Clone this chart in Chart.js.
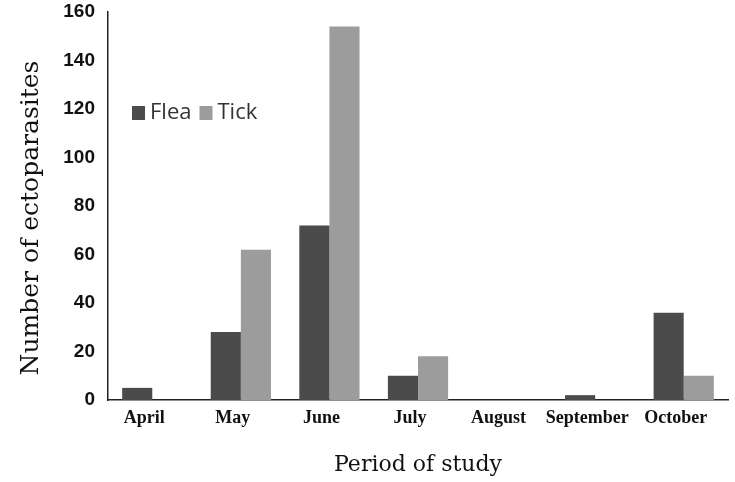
<!DOCTYPE html>
<html>
<head>
<meta charset="utf-8">
<script src="https://cdn.jsdelivr.net/npm/chart.js@4/dist/chart.umd.min.js"></script>
<style>
html,body{margin:0;padding:0;background:#fff;}
#wrap{width:735px;height:482px;position:relative;}
</style>
</head>
<body>
<div id="wrap"><canvas id="c" width="735" height="482"></canvas></div>
<script>
const categories = ["April","May","June","July","August","September","October"];
const fleaValues = [5, 28, 72, 10, 0, 2, 36];
const tickValues = [0, 62, 154, 18, 0, 0, 10];
const yTicks = [0,20,40,60,80,100,120,140,160];
const seriesNames = ["Flea","Tick"];
const seriesColors = ["#4b4b4b","#9c9c9c"];
const yTitle = 'Number of ectoparasites';

const legendPlugin = {
  id: 'insideLegend',
  afterDraw(chart){
    const ctx = chart.ctx;
    const a = chart.chartArea;
    ctx.save();
    ctx.font = '22px "Open Sans"';
    ctx.textBaseline = 'middle';
    let x = a.left + 24;
    const y = a.top + 101;
    seriesNames.forEach((n,i)=>{
      ctx.fillStyle = seriesColors[i];
      ctx.fillRect(x, y-7, 13, 14);
      x += 18;
      ctx.fillStyle = '#333';
      ctx.fillText(n, x, y);
      x += ctx.measureText(n).width + 8;
    });
    // y axis title
    ctx.translate(31, (a.top + a.bottom) / 2 + 12);
    ctx.rotate(-Math.PI / 2);
    ctx.font = '25px "DejaVu Serif"';
    ctx.fillStyle = '#111';
    ctx.textAlign = 'center';
    ctx.textBaseline = 'middle';
    ctx.fillText(yTitle, 0, 0);
    ctx.restore();
  }
};

new Chart(document.getElementById('c'), {
  type: 'bar',
  data: {
    labels: categories,
    datasets: [
      {label: seriesNames[0], data: fleaValues, backgroundColor: seriesColors[0], categoryPercentage: 0.68, barPercentage: 1.0},
      {label: seriesNames[1], data: tickValues, backgroundColor: seriesColors[1], categoryPercentage: 0.68, barPercentage: 1.0}
    ]
  },
  options: {
    responsive: false,
    animation: false,
    layout: {padding: {top: 12, right: 7, left: 0, bottom: 0}},
    plugins: {legend: {display: false}, tooltip: {enabled: false}},
    scales: {
      x: {
        grid: {display: false, drawTicks: false},
        border: {color: '#222', width: 1.5},
        ticks: {color: '#111', font: {family: '"Liberation Serif"', weight: 'bold', size: 18}, padding: 8, maxRotation: 0, minRotation: 0, autoSkip: false, labelOffset: -8},
        title: {display: true, text: 'Period of study', color: '#111', font: {family: '"DejaVu Serif"', size: 22}, padding: {top: 10}},
        afterFit(s){ s.height = 82; s.paddingLeft = 0; s.paddingRight = 0; }
      },
      y: {
        min: 0, max: 160,
        afterBuildTicks(s){ s.ticks = yTicks.map(v=>({value:v})); },
        grid: {display: false, drawOnChartArea: false, drawTicks: true, tickLength: 5, tickColor: '#222'},
        border: {color: '#222', width: 1.5},
        ticks: {color: '#111', font: {family: '"Liberation Sans"', weight: 'bold', size: 19}, padding: 8},
        title: {display: false},
        afterFit(s){ s.width = 108; s.paddingTop = 0; s.paddingBottom = 0; }
      }
    }
  },
  plugins: [legendPlugin]
});
</script>
</body>
</html>
